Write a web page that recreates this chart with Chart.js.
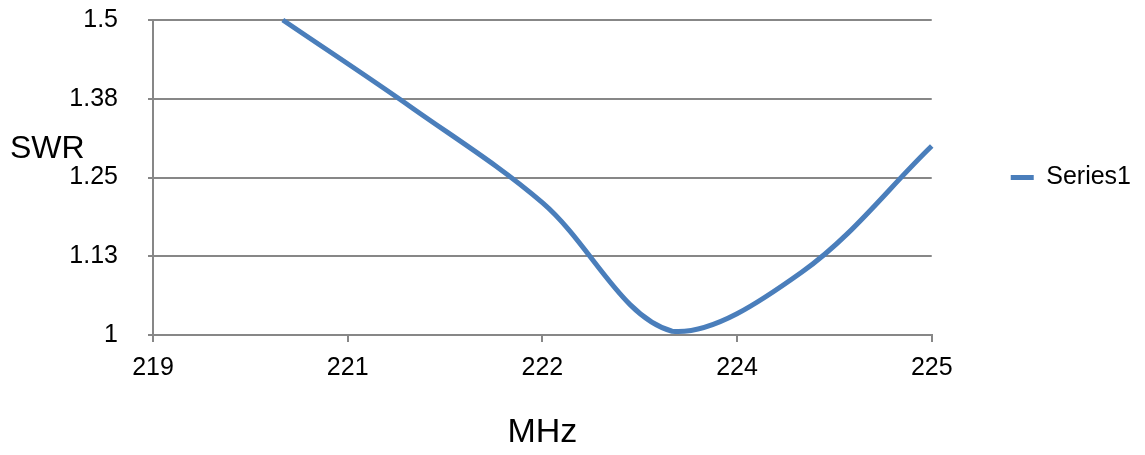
<!DOCTYPE html>
<html><head><meta charset="utf-8">
<script src="https://cdn.jsdelivr.net/npm/chart.js@4/dist/chart.umd.min.js"></script>
<style>html,body{margin:0;padding:0;background:#fff;}#wrap{width:1145px;height:455px;position:relative;}</style>
</head><body><div id="wrap"><canvas id="c" width="1145" height="455"></canvas></div>
<script>
// ---- data ----
const freqsMHz   = [220, 221, 222, 223, 224, 225];
const swrValues  = [1.5, 1.36, 1.21, 1.006, 1.1, 1.3];
const xTickValues = [219, 220.5, 222, 223.5, 225];
const xTickLabels = ['219', '221', '222', '224', '225'];
const yTickValues = [1, 1.125, 1.25, 1.375, 1.5];
const yTickLabels = ['1', '1.13', '1.25', '1.38', '1.5'];
const seriesName = 'Series1';
const xTitle = 'MHz';
const yTitle = 'SWR';

const FONT = "'Liberation Sans', Arial, sans-serif";
const GRID = '#878787';
const BLUE = '#4a7ebb';
Chart.defaults.font.family = FONT;
Chart.defaults.color = '#000';

const yTitlePlugin = {
  id: 'yTitle',
  afterDraw(chart) {
    const ctx = chart.ctx;
    ctx.save();
    ctx.font = '32px ' + FONT;
    ctx.fillStyle = '#000';
    ctx.textBaseline = 'alphabetic';
    ctx.textAlign = 'left';
    ctx.fillText(yTitle, 10, 158);
    ctx.restore();
  }
};

new Chart(document.getElementById('c'), {
  type: 'line',
  data: {
    datasets: [{
      label: seriesName,
      data: freqsMHz.map((f, i) => ({x: f, y: swrValues[i]})),
      borderColor: BLUE,
      backgroundColor: BLUE,
      borderWidth: 5,
      pointRadius: 0,
      tension: 0.35,
      clip: false
    }]
  },
  options: {
    responsive: false,
    animation: false,
    layout: {padding: {left: 0, top: 20, right: 4, bottom: 0}},
    plugins: {
      tooltip: {enabled: false},
      legend: {
        position: 'right',
        fullSize: false,
        align: 'center',
        labels: {
          usePointStyle: true,
          pointStyle: 'line',
          pointStyleWidth: 23,
          padding: 79,
          font: {size: 25, family: FONT},
          color: '#000'
        }
      }
    },
    scales: {
      x: {
        type: 'linear',
        min: 219, max: 225,
        afterBuildTicks: s => { s.ticks = xTickValues.map(v => ({value: v})); },
        afterFit: s => { s.height = 120; s.paddingLeft = 0; s.paddingRight = 0; },
        grid: {drawOnChartArea: false, drawTicks: true, tickLength: 7, color: GRID, lineWidth: 2},
        border: {display: true, color: GRID, width: 2},
        ticks: {
          padding: 11,
          maxRotation: 0,
          autoSkip: false,
          font: {size: 25, family: FONT},
          color: '#000',
          callback: (v, i) => xTickLabels[i]
        },
        title: {display: true, text: xTitle, font: {size: 34, family: FONT}, color: '#000', padding: {top: 0, bottom: 2}}
      },
      y: {
        type: 'linear',
        min: 1, max: 1.5,
        afterBuildTicks: s => { s.ticks = yTickValues.map(v => ({value: v})); },
        afterFit: s => { s.width = 153; s.paddingTop = 0; s.paddingBottom = 0; },
        grid: {color: GRID, lineWidth: 2, tickLength: 5, drawTicks: true},
        border: {display: true, color: GRID, width: 2},
        ticks: {
          padding: 30,
          autoSkip: false,
          font: {size: 25, family: FONT},
          color: '#000',
          callback: (v, i) => yTickLabels[i]
        }
      }
    }
  },
  plugins: [yTitlePlugin]
});
</script></body></html>
